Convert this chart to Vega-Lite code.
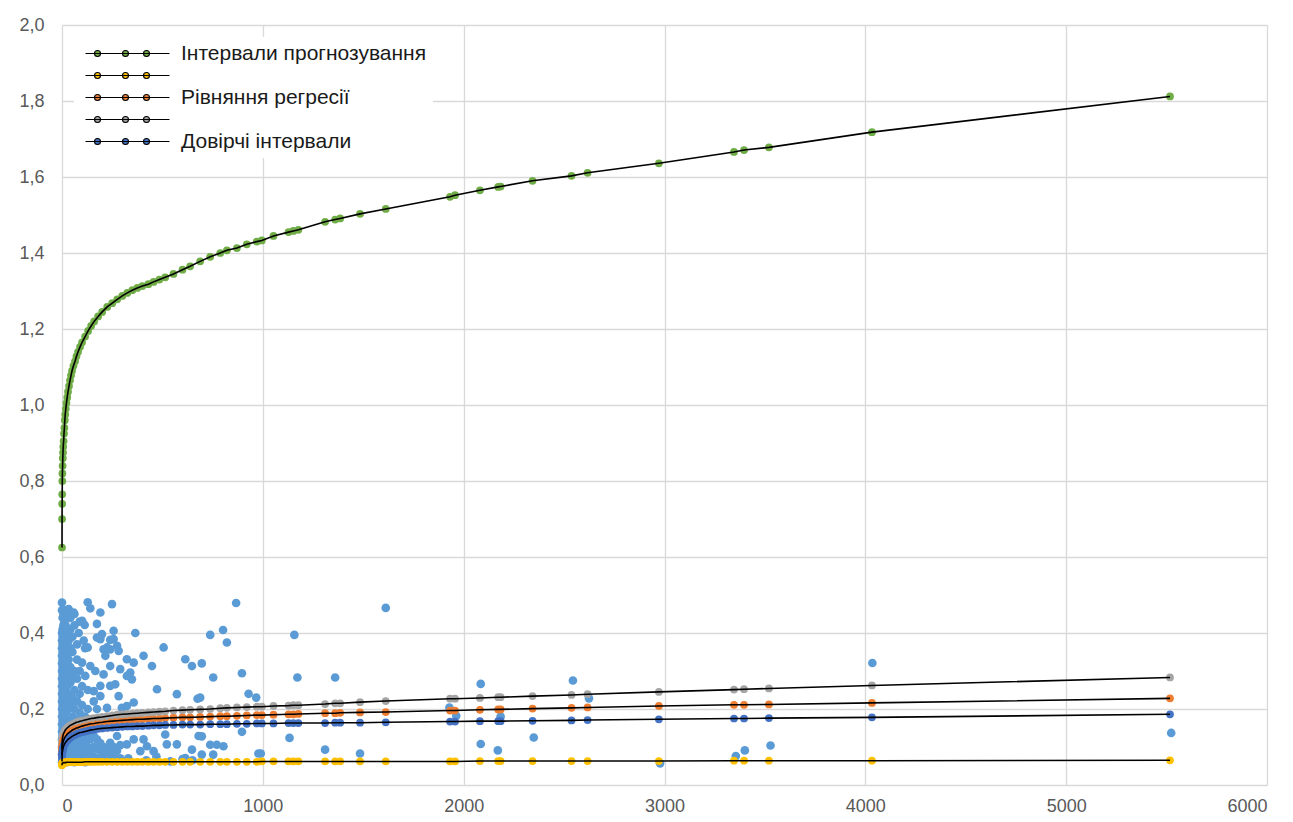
{
  "$schema": "https://vega.github.io/schema/vega-lite/v6.json",
  "width": 1205,
  "height": 760,
  "autosize": {"type": "none"},
  "padding": {"left": 62, "top": 25, "right": 26, "bottom": 37},
  "background": "white",
  "config": {
    "view": {"stroke": null},
    "font": "Liberation Sans",
    "axis": {
      "grid": true, "gridColor": "#d9d9d9", "gridWidth": 1.3,
      "domain": false, "ticks": false,
      "labelFontSize": 18, "labelColor": "#595959", "labelFont": "Liberation Sans",
      "title": null
    }
  },
  "datasets": {
    "fit": [
      {"x":0,"green":0.625,"gray":0.095,"orange":0.079,"navy":0.062,"yellow":0.052},
      {"x":0.3,"green":0.70,"gray":0.105,"orange":0.088,"navy":0.072,"yellow":0.054},
      {"x":0.7,"green":0.74,"gray":0.112,"orange":0.094,"navy":0.078,"yellow":0.055},
      {"x":1,"green":0.765,"gray":0.116,"orange":0.097,"navy":0.081,"yellow":0.056},
      {"x":1.5,"green":0.80,"gray":0.120,"orange":0.101,"navy":0.085,"yellow":0.057},
      {"x":2,"green":0.82,"gray":0.122,"orange":0.103,"navy":0.087,"yellow":0.057},
      {"x":3,"green":0.84,"gray":0.125,"orange":0.106,"navy":0.090,"yellow":0.058},
      {"x":4,"green":0.86,"gray":0.128,"orange":0.109,"navy":0.093,"yellow":0.058},
      {"x":5,"green":0.875,"gray":0.130,"orange":0.112,"navy":0.096,"yellow":0.058},
      {"x":6,"green":0.89,"gray":0.133,"orange":0.115,"navy":0.099,"yellow":0.058},
      {"x":8,"green":0.905,"gray":0.136,"orange":0.118,"navy":0.102,"yellow":0.059},
      {"x":10,"green":0.925,"gray":0.138,"orange":0.121,"navy":0.105,"yellow":0.059},
      {"x":12,"green":0.94,"gray":0.140,"orange":0.123,"navy":0.107,"yellow":0.059},
      {"x":14,"green":0.96,"gray":0.142,"orange":0.125,"navy":0.109,"yellow":0.059},
      {"x":16,"green":0.975,"gray":0.144,"orange":0.127,"navy":0.111,"yellow":0.059},
      {"x":19,"green":0.99,"gray":0.146,"orange":0.129,"navy":0.113,"yellow":0.059},
      {"x":22,"green":1.005,"gray":0.148,"orange":0.131,"navy":0.115,"yellow":0.060},
      {"x":26,"green":1.02,"gray":0.150,"orange":0.134,"navy":0.118,"yellow":0.060},
      {"x":30,"green":1.035,"gray":0.152,"orange":0.136,"navy":0.120,"yellow":0.060},
      {"x":35,"green":1.05,"gray":0.154,"orange":0.138,"navy":0.122,"yellow":0.060},
      {"x":40,"green":1.065,"gray":0.156,"orange":0.140,"navy":0.124,"yellow":0.060},
      {"x":45,"green":1.078,"gray":0.158,"orange":0.142,"navy":0.126,"yellow":0.060},
      {"x":50,"green":1.09,"gray":0.159,"orange":0.144,"navy":0.128,"yellow":0.060},
      {"x":57,"green":1.103,"gray":0.161,"orange":0.146,"navy":0.130,"yellow":0.060},
      {"x":65,"green":1.115,"gray":0.163,"orange":0.148,"navy":0.132,"yellow":0.060},
      {"x":72,"green":1.128,"gray":0.165,"orange":0.150,"navy":0.134,"yellow":0.060},
      {"x":80,"green":1.14,"gray":0.166,"orange":0.151,"navy":0.136,"yellow":0.060},
      {"x":90,"green":1.153,"gray":0.168,"orange":0.153,"navy":0.138,"yellow":0.060},
      {"x":100,"green":1.165,"gray":0.169,"orange":0.155,"navy":0.139,"yellow":0.060},
      {"x":115,"green":1.18,"gray":0.171,"orange":0.157,"navy":0.141,"yellow":0.061},
      {"x":130,"green":1.195,"gray":0.173,"orange":0.159,"navy":0.143,"yellow":0.061},
      {"x":145,"green":1.208,"gray":0.175,"orange":0.161,"navy":0.145,"yellow":0.061},
      {"x":160,"green":1.22,"gray":0.176,"orange":0.162,"navy":0.146,"yellow":0.061},
      {"x":180,"green":1.233,"gray":0.178,"orange":0.164,"navy":0.148,"yellow":0.061},
      {"x":200,"green":1.245,"gray":0.179,"orange":0.165,"navy":0.149,"yellow":0.061},
      {"x":225,"green":1.258,"gray":0.181,"orange":0.167,"navy":0.150,"yellow":0.061},
      {"x":250,"green":1.268,"gray":0.183,"orange":0.168,"navy":0.151,"yellow":0.061},
      {"x":275,"green":1.278,"gray":0.185,"orange":0.169,"navy":0.152,"yellow":0.061},
      {"x":300,"green":1.287,"gray":0.186,"orange":0.170,"navy":0.153,"yellow":0.061},
      {"x":325,"green":1.295,"gray":0.187,"orange":0.171,"navy":0.154,"yellow":0.061},
      {"x":350,"green":1.302,"gray":0.188,"orange":0.172,"navy":0.154,"yellow":0.061},
      {"x":375,"green":1.308,"gray":0.189,"orange":0.173,"navy":0.155,"yellow":0.061},
      {"x":400,"green":1.313,"gray":0.190,"orange":0.173,"navy":0.155,"yellow":0.061},
      {"x":430,"green":1.318,"gray":0.191,"orange":0.174,"navy":0.156,"yellow":0.061},
      {"x":456,"green":1.324,"gray":0.192,"orange":0.175,"navy":0.157,"yellow":0.061},
      {"x":485,"green":1.330,"gray":0.193,"orange":0.175,"navy":0.157,"yellow":0.061},
      {"x":514,"green":1.336,"gray":0.194,"orange":0.176,"navy":0.158,"yellow":0.061},
      {"x":555,"green":1.345,"gray":0.196,"orange":0.177,"navy":0.158,"yellow":0.061},
      {"x":600,"green":1.356,"gray":0.197,"orange":0.178,"navy":0.159,"yellow":0.061},
      {"x":638,"green":1.365,"gray":0.198,"orange":0.178,"navy":0.159,"yellow":0.061},
      {"x":688,"green":1.378,"gray":0.199,"orange":0.179,"navy":0.159,"yellow":0.061},
      {"x":738,"green":1.39,"gray":0.200,"orange":0.180,"navy":0.160,"yellow":0.061},
      {"x":788,"green":1.40,"gray":0.202,"orange":0.181,"navy":0.160,"yellow":0.061},
      {"x":821,"green":1.407,"gray":0.203,"orange":0.181,"navy":0.160,"yellow":0.061},
      {"x":871,"green":1.413,"gray":0.204,"orange":0.182,"navy":0.161,"yellow":0.061},
      {"x":920,"green":1.423,"gray":0.205,"orange":0.183,"navy":0.161,"yellow":0.061},
      {"x":970,"green":1.43,"gray":0.206,"orange":0.184,"navy":0.162,"yellow":0.061},
      {"x":995,"green":1.433,"gray":0.206,"orange":0.184,"navy":0.162,"yellow":0.062},
      {"x":1053,"green":1.445,"gray":0.208,"orange":0.185,"navy":0.162,"yellow":0.062},
      {"x":1128,"green":1.455,"gray":0.209,"orange":0.186,"navy":0.163,"yellow":0.062},
      {"x":1152,"green":1.458,"gray":0.210,"orange":0.186,"navy":0.163,"yellow":0.062},
      {"x":1177,"green":1.461,"gray":0.210,"orange":0.187,"navy":0.163,"yellow":0.062},
      {"x":1310,"green":1.482,"gray":0.213,"orange":0.189,"navy":0.163,"yellow":0.062},
      {"x":1360,"green":1.488,"gray":0.215,"orange":0.189,"navy":0.164,"yellow":0.062},
      {"x":1385,"green":1.491,"gray":0.215,"orange":0.190,"navy":0.164,"yellow":0.062},
      {"x":1484,"green":1.503,"gray":0.218,"orange":0.191,"navy":0.164,"yellow":0.062},
      {"x":1612,"green":1.516,"gray":0.221,"orange":0.192,"navy":0.165,"yellow":0.062},
      {"x":1932,"green":1.548,"gray":0.227,"orange":0.196,"navy":0.167,"yellow":0.062},
      {"x":1957,"green":1.552,"gray":0.227,"orange":0.196,"navy":0.167,"yellow":0.062},
      {"x":2081,"green":1.565,"gray":0.229,"orange":0.198,"navy":0.168,"yellow":0.063},
      {"x":2172,"green":1.574,"gray":0.231,"orange":0.199,"navy":0.168,"yellow":0.063},
      {"x":2184,"green":1.575,"gray":0.231,"orange":0.199,"navy":0.168,"yellow":0.063},
      {"x":2343,"green":1.59,"gray":0.234,"orange":0.201,"navy":0.169,"yellow":0.063},
      {"x":2537,"green":1.603,"gray":0.237,"orange":0.203,"navy":0.170,"yellow":0.063},
      {"x":2617,"green":1.611,"gray":0.239,"orange":0.204,"navy":0.171,"yellow":0.063},
      {"x":2972,"green":1.636,"gray":0.245,"orange":0.208,"navy":0.173,"yellow":0.063},
      {"x":3346,"green":1.666,"gray":0.251,"orange":0.211,"navy":0.175,"yellow":0.064},
      {"x":3396,"green":1.671,"gray":0.252,"orange":0.211,"navy":0.175,"yellow":0.064},
      {"x":3520,"green":1.678,"gray":0.254,"orange":0.212,"navy":0.176,"yellow":0.064},
      {"x":4033,"green":1.718,"gray":0.262,"orange":0.216,"navy":0.178,"yellow":0.064},
      {"x":5517,"green":1.812,"gray":0.283,"orange":0.228,"navy":0.186,"yellow":0.065}
    ],
    "obs": [
      {"x":0,"y":0.06},{"x":0,"y":0.08},{"x":0,"y":0.10},{"x":0,"y":0.12},{"x":0,"y":0.14},{"x":0,"y":0.16},{"x":0,"y":0.18},{"x":0,"y":0.20},{"x":0,"y":0.22},{"x":0,"y":0.24},{"x":0,"y":0.26},{"x":0,"y":0.28},{"x":0,"y":0.30},{"x":0,"y":0.32},{"x":0,"y":0.34},{"x":0,"y":0.36},{"x":0,"y":0.38},{"x":0,"y":0.40},{"x":0,"y":0.48},{"x":0,"y":0.46},
      {"x":3,"y":0.07},{"x":3,"y":0.09},{"x":3,"y":0.11},{"x":3,"y":0.13},{"x":3,"y":0.15},{"x":3,"y":0.17},{"x":3,"y":0.19},{"x":3,"y":0.21},{"x":3,"y":0.23},{"x":3,"y":0.25},{"x":3,"y":0.27},{"x":3,"y":0.29},{"x":3,"y":0.31},{"x":3,"y":0.33},{"x":3,"y":0.35},{"x":3,"y":0.37},{"x":3,"y":0.39},{"x":3,"y":0.41},{"x":3,"y":0.44},
      {"x":7,"y":0.06},{"x":7,"y":0.10},{"x":7,"y":0.14},{"x":7,"y":0.18},{"x":7,"y":0.22},{"x":7,"y":0.26},{"x":7,"y":0.30},{"x":7,"y":0.34},{"x":7,"y":0.38},{"x":7,"y":0.42},{"x":7,"y":0.45},{"x":7,"y":0.07},{"x":7,"y":0.12},{"x":7,"y":0.20},{"x":7,"y":0.28},{"x":7,"y":0.36},
      {"x":12,"y":0.065},{"x":12,"y":0.085},{"x":12,"y":0.12},{"x":12,"y":0.16},{"x":12,"y":0.21},{"x":12,"y":0.25},{"x":12,"y":0.29},{"x":12,"y":0.33},{"x":12,"y":0.37},{"x":12,"y":0.40},{"x":12,"y":0.43},{"x":12,"y":0.46},
      {"x":18,"y":0.07},{"x":18,"y":0.09},{"x":18,"y":0.11},{"x":18,"y":0.15},{"x":18,"y":0.19},{"x":18,"y":0.23},{"x":18,"y":0.27},{"x":18,"y":0.31},{"x":18,"y":0.35},{"x":18,"y":0.39},{"x":18,"y":0.42},
      {"x":25,"y":0.06},{"x":25,"y":0.08},{"x":25,"y":0.13},{"x":25,"y":0.17},{"x":25,"y":0.22},{"x":25,"y":0.26},{"x":25,"y":0.30},{"x":25,"y":0.34},{"x":25,"y":0.37},{"x":25,"y":0.40},{"x":25,"y":0.45},
      {"x":33,"y":0.07},{"x":33,"y":0.10},{"x":33,"y":0.14},{"x":33,"y":0.20},{"x":33,"y":0.24},{"x":33,"y":0.28},{"x":33,"y":0.33},{"x":33,"y":0.38},{"x":33,"y":0.463},
      {"x":42,"y":0.065},{"x":42,"y":0.09},{"x":42,"y":0.12},{"x":42,"y":0.16},{"x":42,"y":0.21},{"x":42,"y":0.27},{"x":42,"y":0.31},{"x":42,"y":0.36},{"x":42,"y":0.41},{"x":42,"y":0.44},
      {"x":52,"y":0.07},{"x":52,"y":0.10},{"x":52,"y":0.13},{"x":52,"y":0.18},{"x":52,"y":0.23},{"x":52,"y":0.29},{"x":52,"y":0.35},{"x":52,"y":0.39},{"x":58,"y":0.454},
      {"x":62,"y":0.06},{"x":62,"y":0.085},{"x":62,"y":0.11},{"x":62,"y":0.15},{"x":62,"y":0.20},{"x":62,"y":0.25},{"x":62,"y":0.30},{"x":62,"y":0.42},{"x":62,"y":0.45},
      {"x":75,"y":0.07},{"x":75,"y":0.095},{"x":75,"y":0.12},{"x":75,"y":0.17},{"x":75,"y":0.22},{"x":75,"y":0.28},{"x":75,"y":0.33},{"x":75,"y":0.37},{"x":83,"y":0.40},
      {"x":88,"y":0.065},{"x":88,"y":0.08},{"x":88,"y":0.105},{"x":88,"y":0.14},{"x":88,"y":0.19},{"x":88,"y":0.24},{"x":88,"y":0.30},{"x":88,"y":0.43},
      {"x":100,"y":0.07},{"x":100,"y":0.09},{"x":100,"y":0.12},{"x":100,"y":0.16},{"x":100,"y":0.21},{"x":100,"y":0.26},{"x":100,"y":0.322},{"x":100,"y":0.432},
      {"x":108,"y":0.38},{"x":113,"y":0.421},
      {"x":115,"y":0.06},{"x":115,"y":0.085},{"x":115,"y":0.11},{"x":115,"y":0.145},{"x":115,"y":0.18},{"x":116,"y":0.287},{"x":115,"y":0.36},
      {"x":128,"y":0.07},{"x":128,"y":0.10},{"x":128,"y":0.13},{"x":128,"y":0.20},{"x":128,"y":0.25},{"x":128,"y":0.362},{"x":128,"y":0.481},
      {"x":141,"y":0.065},{"x":141,"y":0.09},{"x":141,"y":0.12},{"x":141,"y":0.16},{"x":141,"y":0.313},{"x":141,"y":0.465},
      {"x":158,"y":0.075},{"x":158,"y":0.10},{"x":158,"y":0.13},{"x":158,"y":0.22},{"x":158,"y":0.247},{"x":166,"y":0.30},
      {"x":174,"y":0.07},{"x":174,"y":0.095},{"x":174,"y":0.12},{"x":174,"y":0.20},{"x":174,"y":0.388},{"x":174,"y":0.424},
      {"x":191,"y":0.065},{"x":191,"y":0.09},{"x":191,"y":0.11},{"x":191,"y":0.234},{"x":191,"y":0.261},{"x":191,"y":0.384},{"x":191,"y":0.454},
      {"x":199,"y":0.397},
      {"x":207,"y":0.08},{"x":207,"y":0.10},{"x":207,"y":0.291},{"x":207,"y":0.357},
      {"x":216,"y":0.34},{"x":224,"y":0.07},{"x":224,"y":0.095},{"x":224,"y":0.203},{"x":224,"y":0.362},
      {"x":240,"y":0.085},{"x":240,"y":0.111},{"x":240,"y":0.261},{"x":240,"y":0.313},{"x":240,"y":0.357},{"x":240,"y":0.382},
      {"x":249,"y":0.476},{"x":257,"y":0.075},{"x":257,"y":0.10},{"x":257,"y":0.384},{"x":257,"y":0.406},
      {"x":265,"y":0.265},{"x":274,"y":0.09},{"x":274,"y":0.129},{"x":274,"y":0.366},
      {"x":282,"y":0.234},{"x":282,"y":0.353},{"x":290,"y":0.07},{"x":290,"y":0.105},{"x":290,"y":0.305},
      {"x":298,"y":0.203},{"x":323,"y":0.331},{"x":323,"y":0.287},{"x":323,"y":0.208},{"x":323,"y":0.107},{"x":330,"y":0.07},
      {"x":340,"y":0.296},{"x":348,"y":0.278},{"x":357,"y":0.322},{"x":357,"y":0.217},{"x":357,"y":0.12},{"x":365,"y":0.40},
      {"x":390,"y":0.089},{"x":406,"y":0.34},{"x":406,"y":0.12},{"x":420,"y":0.065},{"x":423,"y":0.102},{"x":448,"y":0.313},
      {"x":456,"y":0.089},{"x":470,"y":0.075},{"x":473,"y":0.252},{"x":506,"y":0.362},{"x":514,"y":0.133},{"x":522,"y":0.107},
      {"x":540,"y":0.062},{"x":572,"y":0.239},{"x":572,"y":0.107},{"x":600,"y":0.068},{"x":614,"y":0.331},{"x":614,"y":0.071},
      {"x":647,"y":0.313},{"x":647,"y":0.093},{"x":650,"y":0.065},{"x":675,"y":0.227},{"x":680,"y":0.129},{"x":688,"y":0.23},
      {"x":696,"y":0.32},{"x":696,"y":0.128},{"x":696,"y":0.08},{"x":738,"y":0.395},{"x":738,"y":0.106},{"x":753,"y":0.283},{"x":753,"y":0.08},
      {"x":771,"y":0.106},{"x":802,"y":0.408},{"x":804,"y":0.102},{"x":821,"y":0.375},{"x":867,"y":0.479},{"x":896,"y":0.294},{"x":896,"y":0.14},
      {"x":929,"y":0.24},{"x":967,"y":0.23},{"x":978,"y":0.083},{"x":990,"y":0.083},
      {"x":1133,"y":0.124},{"x":1157,"y":0.395},{"x":1172,"y":0.283},{"x":1310,"y":0.093},{"x":1360,"y":0.283},{"x":1484,"y":0.083},{"x":1612,"y":0.466},
      {"x":1929,"y":0.204},{"x":1963,"y":0.182},{"x":2085,"y":0.266},{"x":2085,"y":0.108},{"x":2170,"y":0.091},{"x":2184,"y":0.18},{"x":2349,"y":0.125},
      {"x":2544,"y":0.275},{"x":2624,"y":0.228},{"x":2978,"y":0.057},{"x":3355,"y":0.076},{"x":3400,"y":0.091},{"x":3528,"y":0.104},{"x":4035,"y":0.321},{"x":5523,"y":0.137}
    ]
  },
  "encoding": {
    "x": {"field": "x", "type": "quantitative", "scale": {"domain": [0, 6000], "nice": false},
          "axis": {"values": [0,1000,2000,3000,4000,5000,6000], "format": "d", "labelPadding": 12}},
    "y": {"type": "quantitative", "scale": {"domain": [0, 2], "nice": false},
          "axis": {"values": [0,0.2,0.4,0.6,0.8,1.0,1.2,1.4,1.6,1.8,2.0], "labelPadding": 18,
                   "labelExpr": "replace(format(datum.value, '.1f'), '.', ',')"}}
  },
  "layer": [
    {
      "data": {"name": "obs"},
      "mark": {"type": "circle", "size": 75, "opacity": 1, "color": "#5B9BD5"},
      "encoding": {"y": {"field": "y", "type": "quantitative"}}
    },
    {
      "data": {"name": "fit"},
      "transform": [{"fold": ["green", "yellow", "orange", "gray", "navy"], "as": ["series", "val"]}],
      "mark": {"type": "point", "filled": true, "size": 60, "opacity": 1},
      "encoding": {
        "y": {"field": "val", "type": "quantitative"},
        "color": {
          "field": "series", "type": "nominal",
          "scale": {"domain": ["green", "yellow", "orange", "gray", "navy"],
                    "range": ["#70AD47", "#FFC000", "#ED7D31", "#A5A5A5", "#4472C4"]},
          "sort": ["green", "yellow", "orange", "gray", "navy"],
          "legend": {
            "title": null, "orient": "top-left", "offset": 12, "padding": 6,
            "fillColor": "white",
            "symbolType": "M-1,0H15.8M0.8,0a0.6,0.6 0 1,0 1.2,0a0.6,0.6 0 1,0 -1.2,0M6.4,0a0.6,0.6 0 1,0 1.2,0a0.6,0.6 0 1,0 -1.2,0M10.6,0a0.6,0.6 0 1,0 1.2,0a0.6,0.6 0 1,0 -1.2,0",
            "symbolSize": 100, "symbolStrokeColor": "black", "symbolStrokeWidth": 1.1,
            "labelOffset": 80, "labelFontSize": 21, "labelFont": "Liberation Sans", "labelColor": "#1a1a1a",
            "labelLimit": 500, "rowPadding": 0,
            "labelExpr": "datum.value == 'green' ? 'Інтервали прогнозування' : datum.value == 'orange' ? 'Рівняння регресії' : datum.value == 'navy' ? 'Довірчі інтервали' : ''"
          }
        }
      }
    },
    {
      "data": {"name": "fit"},
      "transform": [{"fold": ["green", "yellow", "orange", "gray", "navy"], "as": ["series", "val"]}],
      "mark": {"type": "line", "color": "black", "strokeWidth": 1.6},
      "encoding": {
        "y": {"field": "val", "type": "quantitative"},
        "detail": {"field": "series", "type": "nominal"},
        "order": {"field": "x", "type": "quantitative"}
      }
    }
  ]
}
